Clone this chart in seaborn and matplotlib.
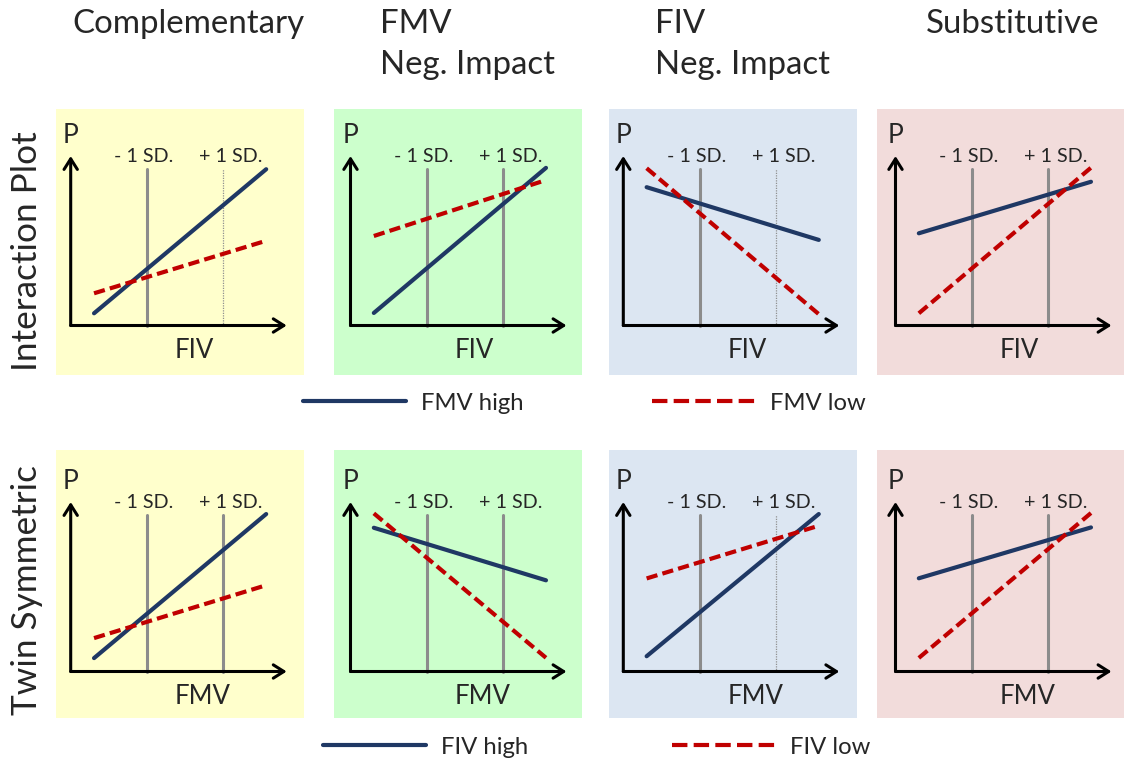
import numpy as np
import pandas as pd
import matplotlib.pyplot as plt
from matplotlib.lines import Line2D
import seaborn as sns

# --- data ---
col_titles = ["Complementary", "FMV\nNeg. Impact", "FIV\nNeg. Impact", "Substitutive"]
row_titles = ["Interaction Plot", "Twin Symmetric"]
x_labels = ["FIV", "FMV"]
legend_high = ["FMV high", "FIV high"]
legend_low = ["FMV low", "FIV low"]

line_x = [1.08, 9.05]
sd_x = [3.54, 7.06]
sd_labels = ["- 1 SD.", "+ 1 SD."]
sd_top = 9.25

# start / end height of each line, one pair per panel
high_row1 = [(0.72, 9.22), (0.74, 9.30), (8.16, 5.05), (5.44, 8.48)]
low_row1 = [(1.90, 5.00), (5.28, 8.58), (9.28, 0.67), (0.72, 9.31)]
high_row2 = [(0.79, 9.29), (8.48, 5.38), (0.90, 9.29), (5.50, 8.50)]
low_row2 = [(1.97, 5.09), (9.33, 0.81), (5.49, 8.60), (0.80, 9.35)]
high_rows = [high_row1, high_row2]
low_rows = [low_row1, low_row2]

# the +1 SD guide is dotted in some panels
plus_sd_dotted = [[True, False, True, False], [False, False, True, False]]

# --- style / layout ---
sns.set_style("white")
plt.rcParams['font.family'] = ['Lato', 'DejaVu Sans']

W, H = 1124, 760
bg = ["#FFFFCC", "#CCFFCC", "#DCE6F2", "#F2DCDB"]
navy = "#1F3864"
red = "#C00000"
gray = "#8C8C8C"

panel_left = [56, 334, 609, 877]
panel_w = [248, 248, 248, 247]
row_top = [109, 450]
row_h = [266, 268]
origin_dx = [14.7, 16.5, 14.3, 18.5]
origin_y = [325.5, 671.5]
px_x, px_y = 21.6, 16.95

fig = plt.figure(figsize=(W / 100, H / 100), dpi=100)

for r in range(2):
    for c in range(4):
        left, top, w, h = panel_left[c], row_top[r], panel_w[c], row_h[r]
        ax = fig.add_axes([left / W, 1 - (top + h) / H, w / W, h / H])
        ax.set_facecolor(bg[c])

        df = pd.DataFrame({
            'x': line_x + line_x,
            'y': list(high_rows[r][c]) + list(low_rows[r][c]),
            'series': ['high', 'high', 'low', 'low'],
        })

        # guide lines at -1 / +1 SD
        for i, sx in enumerate(sd_x):
            if i == 1 and plus_sd_dotted[r][c]:
                ax.plot([sx, sx], [0, sd_top], color="#909090", lw=0.9,
                        ls=(0, (1, 1)), zorder=1)
            else:
                ax.plot([sx, sx], [0, sd_top], color=gray, lw=2.2, zorder=1)
            ax.text(sx + (-0.15 if i == 0 else 0.35), 10.0, sd_labels[i],
                    ha='center', va='center', fontsize=14.2)

        sns.lineplot(data=df, x='x', y='y', hue='series', style='series',
                     palette={'high': navy, 'low': red},
                     dashes={'high': '', 'low': (2.7, 1.25)},
                     linewidth=3, legend=False, ax=ax, zorder=4)

        # axes drawn as arrows
        arrow = dict(arrowstyle="->,head_length=0.38,head_width=0.24",
                     lw=2.2, color='black', mutation_scale=20,
                     shrinkA=0, shrinkB=0)
        ax.annotate("", xy=(10, 0), xytext=(0, 0), arrowprops=arrow, zorder=5)
        ax.annotate("", xy=(0, 10), xytext=(0, 0), arrowprops=arrow, zorder=5)
        ax.text(0, 11.2, "P", ha='center', va='center', fontsize=19)
        ax.text(4.83, -1.5, x_labels[r], ha='left', va='center', fontsize=18.5)

        ax.set_xlim((left - (left + origin_dx[c])) / px_x,
                    (left + w - (left + origin_dx[c])) / px_x)
        ax.set_ylim((origin_y[r] - top - h) / px_y, (origin_y[r] - top) / px_y)
        ax.set_xlabel('')
        ax.set_ylabel('')
        ax.set_xticks([])
        ax.set_yticks([])
        for sp in ax.spines.values():
            sp.set_visible(False)

# column titles
title_x = [72, 380, 655, 926]
for c, t in enumerate(col_titles):
    for k, line in enumerate(t.split("\n")):
        fig.text(title_x[c] / W, 1 - (33 + 41 * k) / H, line,
                 ha='left', va='baseline', fontsize=23.8)

# row titles
row_center = [251, 590]
for r, t in enumerate(row_titles):
    fig.text(27 / W, 1 - row_center[r] / H, t, rotation=90,
             ha='center', va='center', fontsize=25.3)

# legends under each row
leg_y = [403, 747]
leg_x_high = [303, 323]
leg_x_low = [652, 672]
for r in range(2):
    h_high = Line2D([], [], color=navy, lw=3)
    h_low = Line2D([], [], color=red, lw=3, dashes=(3.7, 1.5))
    for hd, lab, lx in [(h_high, legend_high[r], leg_x_high[r]),
                        (h_low, legend_low[r], leg_x_low[r])]:
        fig.legend(handles=[hd], labels=[lab], loc='center left',
                   bbox_to_anchor=(lx / W, 1 - leg_y[r] / H),
                   frameon=False, borderpad=0, borderaxespad=0,
                   handlelength=4.3, handletextpad=0.65, fontsize=17.2)

plt.savefig("out.png", dpi=100)
